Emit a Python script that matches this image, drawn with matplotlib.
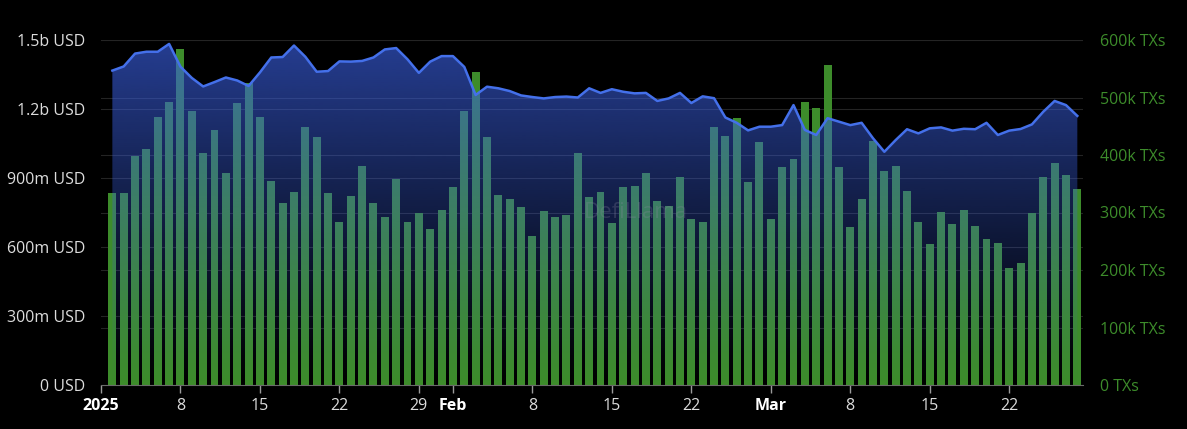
import matplotlib
matplotlib.use("Agg")
import matplotlib.pyplot as plt
import matplotlib.dates as mdates
import numpy as np
import pandas as pd
from matplotlib.colors import to_rgb

# ---------------- data ----------------
start_date = "2025-01-02"
n_days = 86

tvl_musd = [1367, 1385, 1441, 1449, 1449, 1483, 1384, 1335, 1298, 1317,
            1337, 1324, 1300, 1359, 1424, 1426, 1476, 1427, 1362, 1365,
            1407, 1406, 1409, 1424, 1459, 1465, 1416, 1357, 1406, 1430,
            1430, 1383, 1261, 1297, 1290, 1278, 1259, 1252, 1246, 1252,
            1254, 1250, 1290, 1270, 1286, 1275, 1268, 1270, 1235, 1246,
            1270, 1226, 1255, 1247, 1163, 1140, 1107, 1123, 1123, 1130,
            1217, 1109, 1087, 1160, 1145, 1130, 1140, 1073, 1014, 1065,
            1112, 1094, 1116, 1120, 1106, 1114, 1112, 1140, 1087, 1106,
            1113, 1133, 1188, 1235, 1217, 1170]

txs_k = [334, 334, 398, 410, 466, 492, 584, 477, 403, 443,
         369, 490, 525, 466, 355, 317, 336, 449, 431, 334,
         283, 329, 381, 317, 292, 358, 283, 299, 271, 304,
         344, 477, 544, 431, 330, 323, 310, 259, 303, 292,
         296, 403, 327, 336, 282, 344, 346, 369, 320, 311,
         362, 289, 283, 449, 433, 464, 353, 423, 289, 379,
         393, 492, 482, 557, 379, 275, 323, 424, 372, 381,
         337, 283, 245, 301, 280, 304, 277, 254, 247, 203,
         212, 299, 362, 386, 365, 341]

left_ticks = [0, 300e6, 600e6, 900e6, 1.2e9, 1.5e9]
left_labels = ["0 USD", "300m USD", "600m USD", "900m USD", "1.2b USD", "1.5b USD"]
right_ticks = [0, 100e3, 200e3, 300e3, 400e3, 500e3, 600e3]
right_labels = ["0 TXs", "100k TXs", "200k TXs", "300k TXs", "400k TXs", "500k TXs", "600k TXs"]
x_tick_dates = ["2025-01-01", "2025-01-08", "2025-01-15", "2025-01-22", "2025-01-29",
                "2025-02-01", "2025-02-08", "2025-02-15", "2025-02-22",
                "2025-03-01", "2025-03-08", "2025-03-15", "2025-03-22"]
x_tick_labels = ["2025", "8", "15", "22", "29", "Feb", "8", "15", "22", "Mar", "8", "15", "22"]
bold_labels = {"2025", "Feb", "Mar"}

# ---------------- style ----------------
BG = "#000000"
GREEN = "#3d8c2b"
LINE = "#4470ea"
AREA = "#3a5fe0"
TXT = "#dcdcdc"
GRID = "#242424"
FS = 11.5

plt.rcParams["font.family"] = ["Open Sans", "DejaVu Sans"]

dates = pd.date_range(start_date, periods=n_days)
x = mdates.date2num(dates.to_pydatetime())
tvl = np.array(tvl_musd) * 1e6
txs = np.array(txs_k) * 1e3

fig = plt.figure(figsize=(11.87, 4.29), dpi=100, facecolor=BG)
ax2 = fig.add_axes([101 / 1187, 1 - 385 / 429, 982 / 1187, 345 / 429])
ax = ax2.twinx()
ax2.set_facecolor(BG)
ax.patch.set_visible(False)

x0 = mdates.date2num(pd.Timestamp("2025-01-01"))
x1 = x0 + 86.5

# bars (TXs, right axis)
ax2.bar(x, txs, width=0.7, color=GREEN, zorder=2)
ax2.set_ylim(0, 600e3)
ax2.set_xlim(x0, x1)

# area (USD)
ax.set_ylim(0, 1.5e9)
ax.set_xlim(x0, x1)
poly = ax.fill_between(x, 0, tvl, color="none", lw=0)
grad = np.zeros((256, 1, 4))
r, g, b = to_rgb(AREA)
grad[:, 0, 0] = r
grad[:, 0, 1] = g
grad[:, 0, 2] = b
grad[:, 0, 3] = np.linspace(0.68, 0.0, 256) ** 1.1
im = ax.imshow(grad, aspect="auto", extent=[x0, x1, 0, 1.5e9], origin="upper",
               zorder=3, interpolation="bilinear")
clip = poly.get_paths()[0]
im.set_clip_path(clip, transform=ax.transData)
ax.plot(x, tvl, color=LINE, lw=1.8, zorder=4)

# grid lines
for t in left_ticks[1:]:
    ax2.axhline(t / 1.5e9 * 600e3, color=GRID, lw=0.8, zorder=1)
for t in right_ticks[1:]:
    ax2.axhline(t, color=GRID, lw=0.8, zorder=1)

# axes styling
for a in (ax, ax2):
    for s in a.spines.values():
        s.set_visible(False)
ax2.spines["bottom"].set_visible(True)
ax2.spines["bottom"].set_color("#6a6a6a")

ax.set_yticks(left_ticks)
ax.set_yticklabels(left_labels)
ax.yaxis.tick_left()
ax.tick_params(axis="y", length=0, pad=11, colors=TXT, labelsize=FS, labelleft=True, labelright=False)

ax2.yaxis.tick_right()
ax2.set_yticks(right_ticks)
ax2.set_yticklabels(right_labels)
ax2.tick_params(axis="y", length=0, pad=12, colors=GREEN, labelsize=FS, labelright=True, labelleft=False)

xt = mdates.date2num(pd.to_datetime(x_tick_dates).to_pydatetime())
ax2.set_xticks(xt)
ax2.set_xticklabels(x_tick_labels)
ax2.tick_params(axis="x", length=6, width=1, color="#9a9a9a", colors=TXT, labelsize=FS, pad=3)
for lab in ax2.get_xticklabels():
    if lab.get_text() in bold_labels:
        lab.set_fontweight("bold")
        lab.set_color("#ffffff")
ax.tick_params(axis="x", bottom=False, labelbottom=False, top=False, labeltop=False)

# watermark
ax.text(0.545, 0.5, "DefiLlama", transform=ax.transAxes, ha="center", va="center",
        fontsize=16, color="#8a8aa0", alpha=0.25, zorder=5)

fig.savefig("out.png", dpi=100, facecolor=BG)
